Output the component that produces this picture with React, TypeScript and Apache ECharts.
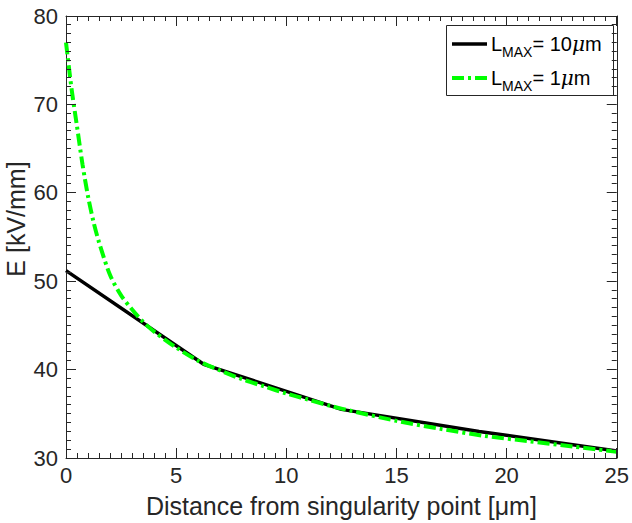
import React, { useEffect, useRef } from "react";
import * as echarts from "echarts";

const xFine = [0, 0.25, 0.5, 0.75, 1, 1.25, 1.5, 2, 2.5, 3, 3.5, 4, 5, 6, 7, 8, 9, 10, 11, 12, 13, 15, 17, 19, 21, 23, 25];
const eFine = [77, 71.8, 67.5, 63.2, 59.6, 56.7, 54.4, 50.7, 48.4, 46.8, 45.4, 44.3, 42.5, 41.0, 39.9, 38.9, 38.1, 37.3, 36.6, 35.9, 35.3, 34.2, 33.3, 32.5, 31.9, 31.3, 30.7];
const xCoarse = [0, 6.25, 12.5, 18.75, 25];
const eCoarse = [51.2, 40.6, 35.5, 33.0, 30.8];
const legendLabels = ["= 10", "= 1"];
const xTickValues = [0, 5, 10, 15, 20, 25];
const yTickValues = [30, 40, 50, 60, 70, 80];

const FONT = "Liberation Sans, Arial, Helvetica, sans-serif";
const TXT = "#262626";
const GREEN = "#00ff00";
const DASH = [12, 4, 3, 4];

// major + minor tick values (10 subdivisions)
const withMinor = (majors: number[]) => {
  const out: number[][] = [];
  for (let i = 0; i < majors.length; i++) {
    out.push([majors[i], 1]);
    if (i < majors.length - 1) {
      const step = (majors[i + 1] - majors[i]) / 10;
      for (let k = 1; k < 10; k++) out.push([+(majors[i] + k * step).toFixed(4), 0]);
    }
  }
  return out;
};

export default function App() {
  const ref = useRef<HTMLDivElement>(null);
  useEffect(() => {
    const chart = echarts.init(ref.current!, null, { renderer: "svg" });
    const frameAxis = (min: number, max: number, interval: number, position: string, extra?: any) => ({
      type: "value", min, max, interval, position,
      axisLine: { show: true, onZero: false, lineStyle: { color: TXT, width: 1 } },
      axisTick: { show: false },
      minorTick: { show: false },
      splitLine: { show: false },
      axisLabel: { show: false },
      ...(extra || {}),
    });
    const rich = {
      n: { fontSize: 20, fontFamily: FONT, color: "#000" },
      s: { fontSize: 14, fontFamily: FONT, color: "#000", padding: [16, 0, 0, 0] },
      i: { fontSize: 20, fontFamily: "DejaVu Serif, serif", fontStyle: "italic", color: "#000" },
    };
    const legendText = (lbl: string, y: number) => ({
      type: "text",
      x: 491,
      y,
      z: 11,
      style: {
        text: `{n|L}{s|MAX}{n|${lbl}}{i|μ}{n|m}`,
        rich,
        verticalAlign: "middle",
        align: "left",
      },
    });
    const baseGraphic: any[] = [
      {
        type: "text",
        x: 16,
        y: 219,
        rotation: Math.PI / 2,
        style: { text: "E [kV/mm]", fontSize: 25, fontFamily: FONT, fill: TXT, align: "center", verticalAlign: "middle" },
      },
      {
        type: "rect",
        shape: { x: 446.5, y: 25.5, width: 167, height: 70 },
        style: { fill: "#fff", stroke: TXT, lineWidth: 1 },
        z: 10,
      },
      {
        type: "line",
        shape: { x1: 452, y1: 44, x2: 487, y2: 44 },
        style: { stroke: "#000", lineWidth: 3.5 },
        z: 11,
      },
      {
        type: "line",
        shape: { x1: 452, y1: 78, x2: 487, y2: 78 },
        style: { stroke: GREEN, lineWidth: 4, lineDash: DASH },
        z: 11,
      },
      legendText(legendLabels[0], 44),
      legendText(legendLabels[1], 78),
    ];
    chart.setOption({
      animation: false,
      textStyle: { fontFamily: FONT },
      grid: { left: 66, top: 16, right: 11, bottom: 65, containLabel: false },
      xAxis: [
        frameAxis(0, 25, 5, "bottom", {
          axisLabel: { color: TXT, fontSize: 22, margin: 6, fontFamily: FONT },
          name: "Distance from singularity point [μm]",
          nameLocation: "middle",
          nameGap: 35,
          nameTextStyle: { color: TXT, fontSize: 25, fontFamily: FONT },
        }),
        frameAxis(0, 25, 5, "top"),
      ],
      yAxis: [
        frameAxis(30, 80, 10, "left", {
          axisLabel: { color: TXT, fontSize: 22, margin: 8, fontFamily: FONT },
        }),
        frameAxis(30, 80, 10, "right"),
      ],
      graphic: baseGraphic,
      series: [
        {
          name: "coarse",
          type: "line",
          data: xCoarse.map((x, i) => [x, eCoarse[i]]),
          symbol: "none",
          lineStyle: { color: "#000", width: 3.5 },
          z: 2,
        },
        {
          name: "fine",
          type: "line",
          data: xFine.map((x, i) => [x, eFine[i]]),
          symbol: "none",
          smooth: 0.3,
          lineStyle: { color: GREEN, width: 4, type: DASH },
          z: 3,
        },
      ],
    });

    // Tick marks on all four sides, placed through the chart's own scales
    const finder = { xAxisIndex: 0, yAxisIndex: 0 };
    const toPx = (p: number[]) => chart.convertToPixel(finder, p) as number[];
    const xMin = xTickValues[0], xMax = xTickValues[xTickValues.length - 1];
    const yMin = yTickValues[0], yMax = yTickValues[yTickValues.length - 1];
    const left = toPx([xMin, yMin])[0];
    const right = toPx([xMax, yMin])[0];
    const bottom = toPx([xMin, yMin])[1];
    const top = toPx([xMin, yMax])[1];
    const snap = (v: number) => Math.round(v - 0.5) + 0.5;
    const ts = { stroke: TXT, lineWidth: 1 };
    const ticks: any[] = [];
    withMinor(xTickValues).forEach(([v, major]) => {
      const px = snap(toPx([v, yMin])[0]);
      const len = major ? 10 : 5;
      ticks.push({ type: "line", silent: true, z: 20, shape: { x1: px, y1: bottom, x2: px, y2: bottom - len }, style: ts });
      ticks.push({ type: "line", silent: true, z: 20, shape: { x1: px, y1: top, x2: px, y2: top + len }, style: ts });
    });
    withMinor(yTickValues).forEach(([v, major]) => {
      const py = snap(toPx([xMin, v])[1]);
      const len = major ? 10 : 5;
      ticks.push({ type: "line", silent: true, z: 20, shape: { x1: left, y1: py, x2: left + len, y2: py }, style: ts });
      ticks.push({ type: "line", silent: true, z: 20, shape: { x1: right, y1: py, x2: right - len, y2: py }, style: ts });
    });
    chart.setOption({ graphic: baseGraphic.concat(ticks) });

    return () => chart.dispose();
  }, []);
  return (
    <div
      ref={ref}
      style={{ position: "fixed", left: 0, top: 0, width: 632, height: 523, background: "#fff" }}
    />
  );
}
